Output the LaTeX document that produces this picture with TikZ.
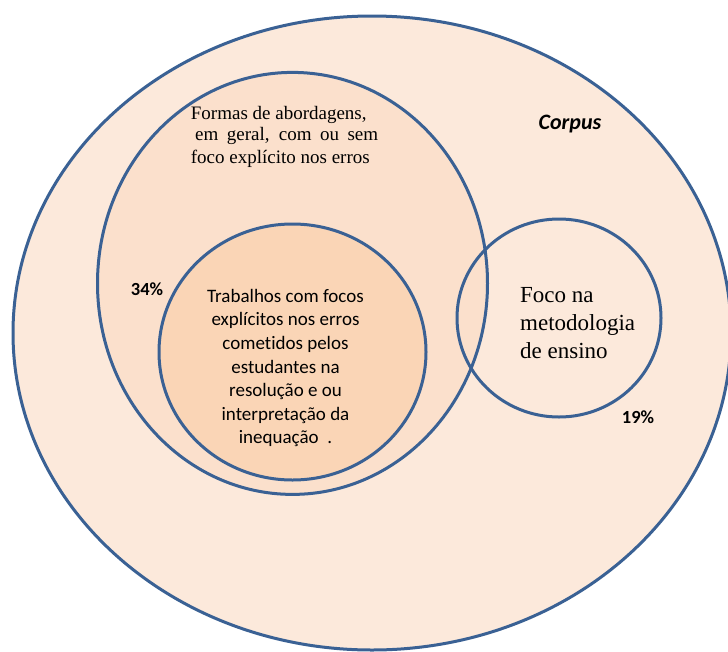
\documentclass[tikz,border=0pt]{standalone}
\usepackage{fontspec}
\setmainfont{Liberation Serif}
\newfontfamily\calibri[Ligatures=NoCommon]{Carlito}
\definecolor{outerfill}{RGB}{252,233,219}
\definecolor{midfill}{RGB}{251,224,204}
\definecolor{innerfill}{RGB}{250,213,182}
\definecolor{edge}{RGB}{58,97,148}
\tikzset{
  ring/.style={draw=edge, line width=3pt},
  serif19/.style={font=\fontsize{19}{22.7}\selectfont, inner sep=0pt},
  serif23/.style={font=\fontsize{23}{27.7}\selectfont, inner sep=0pt, align=left},
  calib/.style={font=\calibri\fontsize{19}{23.6}\selectfont, inner sep=0pt, align=center},
  pct/.style={font=\calibri\bfseries\fontsize{18.5}{22}\selectfont, inner sep=0pt}
}
\begin{document}
\begin{tikzpicture}[x=1pt,y=-1pt]
\useasboundingbox (0,0) rectangle (728,651);
\clip (0,0) rectangle (728,651);
% fills
\fill[outerfill] (372,333) ellipse [x radius=359pt, y radius=317pt];
\fill[midfill] (292.5,283.4) ellipse [x radius=195pt, y radius=211pt];
\fill[innerfill] (292.5,352) ellipse [x radius=133.5pt, y radius=128pt];
% outlines
\draw[ring] (372,333) ellipse [x radius=359pt, y radius=317pt];
\draw[ring] (292.5,283.4) ellipse [x radius=195pt, y radius=211pt];
\draw[ring] (292.5,352) ellipse [x radius=133.5pt, y radius=128pt];
\draw[ring] (559,318) ellipse [x radius=102pt, y radius=99pt];
% texts
\node[serif19, anchor=base west] (f1) at (190.7,119) {Formas de abordagens,};
\node[serif19, anchor=base west] (f2) at (195,140.7) {\makebox[183pt][s]{em geral, com ou sem}};
\node[serif19, anchor=base west] (f3) at (190.7,163.5) {foco explícito nos erros};
\node[calib] (trab) at (285.5,368) {Trabalhos com focos\\explícitos nos erros\\cometidos pelos\\estudantes na\\resolução e ou\\interpretação da\\inequação~~.};
\node[serif23, anchor=west] (foco) at (520,323) {Foco na\\metodologia\\de ensino};
\node[font=\calibri\bfseries\itshape\fontsize{22}{26}\selectfont, inner sep=0pt, anchor=base] (corpus) at (570,129.3) {Corpus};
\node[pct, anchor=base] (p34) at (147,295.7) {34\%};
\node[pct, anchor=base] (p19) at (638,423.3) {19\%};
\end{tikzpicture}
\end{document}
